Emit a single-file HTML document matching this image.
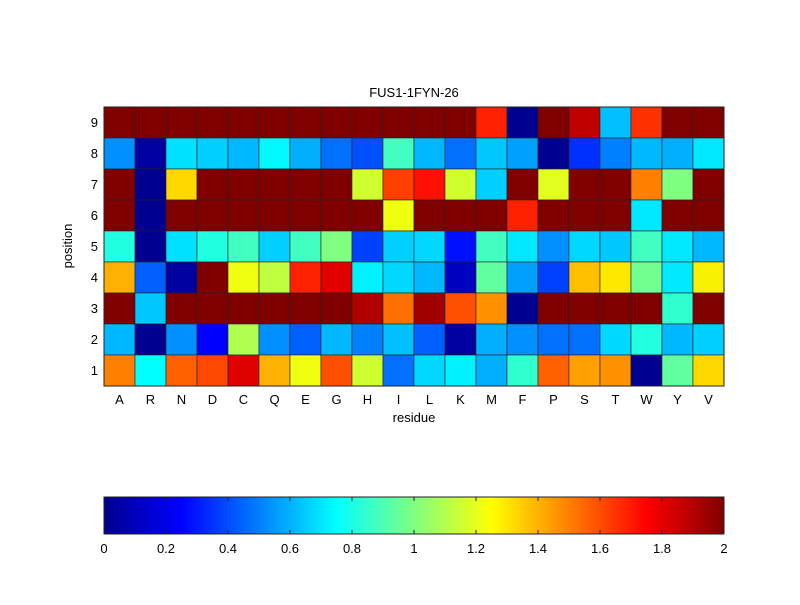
<!DOCTYPE html>
<html><head><meta charset="utf-8"><style>
body{margin:0;background:#fff;width:800px;height:600px;overflow:hidden;font-family:"Liberation Sans",sans-serif;}
</style></head><body>
<svg id="s" width="800" height="600" xmlns="http://www.w3.org/2000/svg" font-family="Liberation Sans, sans-serif" font-size="13">
<defs><linearGradient id="jet" x1="0" x2="1" y1="0" y2="0">
<stop offset="0" stop-color="#00008f"/><stop offset="0.125" stop-color="#0000ff"/><stop offset="0.375" stop-color="#00ffff"/><stop offset="0.625" stop-color="#ffff00"/><stop offset="0.875" stop-color="#ff0000"/><stop offset="1" stop-color="#800000"/>
</linearGradient></defs>
<text x="414" y="97" text-anchor="middle">FUS1-1FYN-26</text>
<g id="cells"></g>
<rect x="104" y="107" width="620" height="279" fill="none" stroke="#222" stroke-width="1"/>
<g id="lbl"></g>
<text x="414" y="422" text-anchor="middle">residue</text>
<text transform="translate(72,246) rotate(-90)" text-anchor="middle">position</text>
<rect x="104" y="497" width="620" height="37" fill="url(#jet)" stroke="#222"/>
<g id="cb"></g>
</svg>
<script>
var D="#800000";
var rows={
9:[D,D,D,D,D,D,D,D,D,D,D,D,"#ff2000","#00008f",D,"#c00000","#00c0ff","#ff3000",D,D],
8:["#0090ff","#0000a0","#00e0ff","#00d0ff","#00b8ff","#00f8ff","#00b0ff","#0070ff","#0050ff","#40ffc0","#00b8ff","#0070ff","#00c8ff","#00a0ff","#000090","#0030ff","#0080ff","#00b8ff","#00b0ff","#00e8ff"],
7:[D,"#000090","#ffd800",D,D,D,D,D,"#d0ff30","#ff4000","#ff1000","#d0ff30","#00d0ff",D,"#e0ff20",D,D,"#ff8000","#80ff80",D],
6:[D,"#000090",D,D,D,D,D,D,D,"#f0ff10",D,D,D,"#ff2000",D,D,D,"#00e8ff",D,D],
5:["#20ffe0","#000090","#00e0ff","#20ffe0","#40ffc0","#00d0ff","#40ffc0","#80ff80","#0040ff","#00d0ff","#00d8ff","#0010ff","#40ffc0","#00e8ff","#0090ff","#00d8ff","#00c8ff","#40ffc0","#00e8ff","#00b8ff"],
4:["#ffb000","#0060ff","#0000a0",D,"#f0ff10","#c0ff40","#ff2000","#e00000","#00f0ff","#00d8ff","#00b8ff","#0000c0","#60ffa0","#00a0ff","#0040ff","#ffc000","#ffe800","#70ff90","#00e8ff","#f8f000"],
3:[D,"#00c8ff",D,D,D,D,D,D,"#b00000","#ff7000","#a00000","#ff5000","#ff9000","#000090",D,D,D,D,"#30ffd0",D],
2:["#00b8ff","#000090","#0090ff","#0000ff","#b0ff50","#0090ff","#0060ff","#00b8ff","#0080ff","#00c0ff","#0060ff","#0000a0","#00b0ff","#0090ff","#0070ff","#0070ff","#00d8ff","#20ffe0","#00b8ff","#00d0ff"],
1:["#ff8000","#00ffff","#ff6000","#ff4800","#e00000","#ffb000","#f0ff10","#ff5000","#d0ff30","#0070ff","#00d8ff","#00f0ff","#00b0ff","#30ffd0","#ff6000","#ffa000","#ff9000","#000090","#60ffa0","#ffd800"]};
var res="ARNDCQEGHILKMFPSTWYV".split("");
var x0=104,y0=107,cw=31,ch=31;
var h="",l="";
for(var r=9;r>=1;r--){var yi=9-r;
 for(var c=0;c<20;c++){h+='<rect x="'+(x0+c*cw)+'" y="'+(y0+yi*ch)+'" width="'+cw+'" height="'+ch+'" fill="'+rows[r][c]+'" stroke="#222" stroke-width="0.6"/>';}
 l+='<text x="98" y="'+(y0+yi*ch+20)+'" text-anchor="end">'+r+'</text>';}
for(var c=0;c<20;c++) l+='<text x="'+(x0+c*cw+15.5)+'" y="404" text-anchor="middle">'+res[c]+'</text>';
document.getElementById("cells").innerHTML=h;
document.getElementById("lbl").innerHTML=l;
var cb="";var labs=["0","0.2","0.4","0.6","0.8","1","1.2","1.4","1.6","1.8","2"];
for(var i=0;i<11;i++){var x=104+i*62;cb+='<text x="'+x+'" y="553" text-anchor="middle">'+labs[i]+'</text>';
 if(i>0&&i<10)cb+='<line x1="'+x+'" x2="'+x+'" y1="497" y2="501" stroke="#222"/><line x1="'+x+'" x2="'+x+'" y1="530" y2="534" stroke="#222"/>';}
document.getElementById("cb").innerHTML=cb;
</script>
</body></html>
